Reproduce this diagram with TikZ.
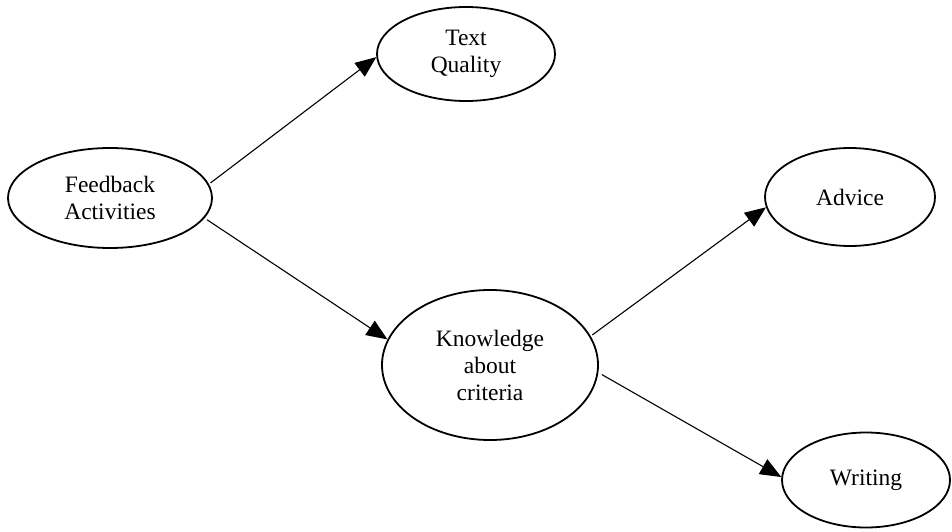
\documentclass[tikz,border=0pt]{standalone}
\usepackage{fontspec}
\setmainfont{Liberation Serif}
\usetikzlibrary{shapes.geometric,arrows.meta}
\begin{document}
\begin{tikzpicture}[x=1pt,y=-1pt,
  oval/.style={ellipse,draw,line width=1.8pt,inner sep=0pt,align=center,font=\fontsize{23.5}{27}\selectfont},
  conn/.style={line width=1.1pt,-{Triangle[length=21pt,width=17pt]}}]
\useasboundingbox[fill=white] (0,0) rectangle (952,532);
\node[oval,minimum width=204pt,minimum height=100pt] (fb) at (110,198) {Feedback\\Activities};
\node[oval,minimum width=178pt,minimum height=94pt] (tq) at (466,54) {Text\\Quality};
\node[oval,minimum width=216pt,minimum height=150pt] (kn) at (490,365) {Knowledge\\about\\criteria};
\node[oval,minimum width=170pt,minimum height=98pt] (ad) at (850,197) {Advice};
\node[oval,minimum width=168pt,minimum height=95pt] (wr) at (866,480) {Writing};
\draw[conn,shorten <=2pt] (fb.8) -- (tq.182);
\draw[conn,shorten <=3pt] (fb.-12) -- (kn.166);
\draw[conn,shorten <=2pt] (kn.16) -- (ad.187);
\draw[conn,shorten <=4pt] (kn.-4) -- (wr.178);
\end{tikzpicture}
\end{document}
